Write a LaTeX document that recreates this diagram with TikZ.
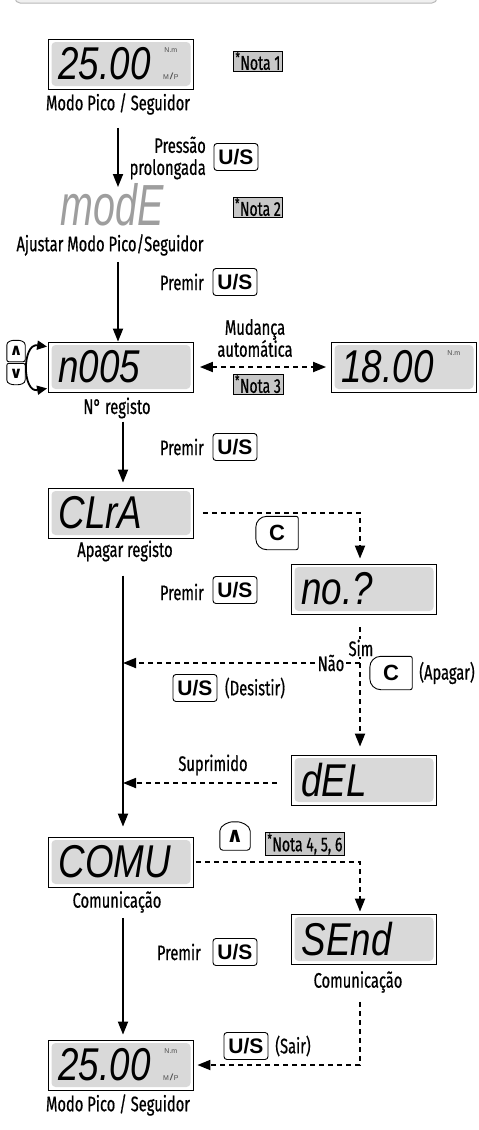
\documentclass[tikz,border=0pt]{standalone}
\usepackage{fontspec}
\setmainfont[FakeStretch=0.7, FakeBold=0.6]{Fira Sans}
\newfontfamily\lcdfont[FakeStretch=0.8]{Liberation Sans}
\newfontfamily\lcdnarrow[FakeStretch=0.68]{Liberation Sans}
\newfontfamily\keyfont{Liberation Sans}
\newfontfamily\symfont{DejaVu Sans}
\usetikzlibrary{arrows.meta}

\definecolor{lcdgray}{gray}{0.85}
\definecolor{notegray}{gray}{0.78}
\definecolor{modegray}{gray}{0.62}

\tikzset{
  lcd/.style={draw, line width=0.8pt, minimum width=145pt, minimum height=50pt,
    text width=125pt, align=left, inner xsep=10pt, inner ysep=0pt,
    font=\lcdfont\itshape\fontsize{46}{46}\selectfont,
    path picture={\fill[lcdgray, rounded corners=4pt]
      ([shift={(3pt,-3pt)}]path picture bounding box.north west) rectangle
      ([shift={(-3pt,3pt)}]path picture bounding box.south east);}},
  unit/.style={inner sep=0pt, font=\keyfont\fontsize{7}{7}\selectfont, text=black!70},
  lbl/.style={inner sep=1pt, font=\fontsize{21}{22}\selectfont},
  note/.style={draw, line width=0.8pt, fill=notegray, inner xsep=2pt, inner ysep=1pt,
    font=\fontsize{20}{20}\selectfont},
  key/.style={draw, line width=0.9pt, rounded corners=3pt, minimum width=44pt,
    minimum height=27pt, inner sep=0pt, font=\keyfont\bfseries\fontsize{21}{21}\selectfont},
  ckey/.style={minimum width=42pt, minimum height=33pt, inner sep=0pt,
    font=\keyfont\bfseries\fontsize{22}{22}\selectfont},
  arrkey/.style={minimum width=18pt, minimum height=21pt, inner sep=0pt,
    font=\symfont\bfseries\fontsize{16}{16}\selectfont},
  keyline/.style={line width=0.9pt, rounded corners=2pt},
  flow/.style={line width=1.8pt, -{Triangle[length=13pt,width=10pt]}},
  dflow/.style={flow, dash pattern=on 5pt off 4pt},
}

\begin{document}
\begin{tikzpicture}[x=1pt, y=-1pt]
\useasboundingbox (0,0) rectangle (479,1130);
\draw [gray!55, fill=gray!12, line width=1pt, rounded corners=5pt] (15,-20) rectangle (437,3);
\coordinate (colA) at (118,0);
\coordinate (colB) at (123,0);
\coordinate (colC) at (360,0);

% modo pico / seguidor
\node [lcd] (peak1) at (121,64) {25.00};
\node [unit] (peak1n) at ([shift={(-23pt,-11pt)}]peak1.north east) {N.m};
\node [unit] (peak1m) at ([shift={(-23pt,13pt)}]peak1.south east) {M\,{\bfseries\itshape\fontsize{9}{9}\selectfont /}\,P};
\node [lbl] (peak1l) at (118,104) {Modo Pico / Seguidor};
\node [note] (nota1) at (258,61) {\textsuperscript{*}Nota 1};

% ajustar modo
\node [inner sep=0pt, text=modegray, font=\lcdnarrow\itshape\fontsize{58}{58}\selectfont] (mode) at (112,205) {modE};
\draw [flow, shorten <=12pt, shorten >=18pt] (peak1l.south -| colA) -- (mode.center -| colA);
\node [lbl, align=right, anchor=east] (press) at (207,158) {Pressão\\prolongada};
\node [key] (us1) at (236,157) {U/S};
\node [lbl] (model) at (110,245) {Ajustar Modo Pico/Seguidor};
\node [note] (nota2) at (258,207) {\textsuperscript{*}Nota 2};

% n. registo
\node [lcd] (rec) at (121,367) {n005};
\draw [flow, shorten <=5pt] (model.south -| colA) -- (rec.north -| colA);
\node [lbl, anchor=east] (prem1) at (205,282) {Premir};
\node [key] (us2) at (235,282) {U/S};
\node [lbl] (recl) at (117,408) {N° registo};
\node [arrkey] (upk) at (16,351) {∧};
\node [arrkey] (dnk) at (16,374) {∨};
\draw [keyline] (upk.south west) -- ([yshift=4pt]upk.west) .. controls ([yshift=-1pt]upk.north west) and ([xshift=-4pt]upk.north) .. (upk.north) .. controls ([xshift=4pt]upk.north) and ([yshift=-1pt]upk.north east) .. ([yshift=4pt]upk.east) -- (upk.south east) -- cycle;
\draw [keyline] (dnk.north west) -- ([yshift=-4pt]dnk.west) .. controls ([yshift=1pt]dnk.south west) and ([xshift=-4pt]dnk.south) .. (dnk.south) .. controls ([xshift=4pt]dnk.south) and ([yshift=1pt]dnk.south east) .. ([yshift=-4pt]dnk.east) -- (dnk.north east) -- cycle;
\draw [line width=1.8pt, {Triangle[length=10pt,width=9pt]}-{Triangle[length=10pt,width=9pt]}]
  ([shift={(-1pt,-5pt)}]rec.north west) .. controls (22,343) and (22,393) .. ([shift={(-1pt,4pt)}]rec.south west);

\node [lbl, align=center] (auto) at (255,338) {Mudança\\automática};
\node [lcd] (val) at (404,367) {18.00};
\node [unit] (valn) at ([shift={(-23pt,-11pt)}]val.north east) {N.m};
\draw [dflow, {Triangle[length=13pt,width=10pt]}-{Triangle[length=13pt,width=10pt]}, shorten <=6pt, shorten >=5pt] (rec) -- (val);
\node [note] (nota3) at (258,384) {\textsuperscript{*}Nota 3};

% apagar registo
\node [lbl, anchor=east] (prem2) at (205,447) {Premir};
\node [key] (us3) at (235,447) {U/S};
\node [lcd] (clr) at (121,513) {CLrA};
\draw [flow, shorten <=2pt, shorten >=5pt] (recl.south -| colB) -- (clr.north -| colB);
\node [lbl] (clrl) at (125,551) {Apagar registo};
\node [lcd] (nop) at (364,589) {no.?};
\draw [dflow, shorten <=9pt, shorten >=5pt] (clr.east) -| (nop.north -| colC);
\node [ckey] (c1) at (277,533) {C};
\draw [line width=0.9pt] (c1.north) [rounded corners=2pt] -- (c1.north east) -- (c1.south east) [rounded corners=11pt] -- (c1.south west) -- (c1.north west) -- (c1.north);
\node [lbl, anchor=east] (prem3) at (205,592) {Premir};
\node [key] (us4) at (235,590) {U/S};

\node [lcd] (del) at (364,780) {dEL};
\node [lcd] (comm) at (121,862) {COMU};
\draw [flow, shorten <=13pt, shorten >=10pt] (clrl.south -| colB) -- (comm.north -| colB);
\coordinate (yes) at (360,663);
\draw [dflow, shorten <=13pt, shorten >=8pt] (nop.south -| colC) -- (del.north -| colC);
\draw [dflow] (yes) -- (yes -| colB);
\node [lbl, fill=white, inner sep=0.5pt] (sim) at (361,648) {Sim};
\node [lbl, fill=white, inner sep=0.5pt] (nao) at (331,663) {Não};
\node [key] (us5) at (195,688) {U/S};
\node [lbl] (quit) at (255,688) {(Desistir)};
\node [ckey] (c2) at (391,673) {C};
\draw [line width=0.9pt] (c2.north) [rounded corners=2pt] -- (c2.north east) -- (c2.south east) [rounded corners=11pt] -- (c2.south west) -- (c2.north west) -- (c2.north);
\node [lbl] (erase) at (447,673) {(Apagar)};
\node [lbl] (gone) at (213,765) {Suprimido};
\draw [dflow, shorten <=14pt] ([yshift=-3pt]del.west) -- ([yshift=-3pt]del.west -| colB);

% comunicacao
\node [lbl] (comml) at (117,902) {Comunicação};
\node [arrkey, minimum width=30pt, minimum height=28pt, font=\symfont\bfseries\fontsize{21}{21}\selectfont] (upk2) at (235,836) {∧};
\draw [keyline, rounded corners=3pt] (upk2.south west) -- ([yshift=2pt]upk2.west) .. controls ([yshift=-3pt]upk2.north west) and ([xshift=-5pt]upk2.north) .. (upk2.north) .. controls ([xshift=5pt]upk2.north) and ([yshift=-3pt]upk2.north east) .. ([yshift=2pt]upk2.east) -- (upk2.south east) -- cycle;
\node [note] (nota4) at (305,844) {\textsuperscript{*}Nota 4, 5, 6};
\node [lcd] (send) at (364,939) {SEnd};
\draw [dflow, shorten <=2pt, shorten >=2pt] (comm.east) -| (send.north -| colC);
\node [lbl] (sendl) at (358,982) {Comunicação};
\node [lbl, anchor=east] (prem4) at (202,952) {Premir};
\node [key] (us6) at (235,952) {U/S};

% volta ao modo pico / seguidor
\node [lcd] (peak2) at (121,1065) {25.00};
\node [unit] (peak2n) at ([shift={(-23pt,-11pt)}]peak2.north east) {N.m};
\node [unit] (peak2m) at ([shift={(-23pt,13pt)}]peak2.south east) {M\,{\bfseries\itshape\fontsize{9}{9}\selectfont /}\,P};
\node [lbl] (peak2l) at (118,1105) {Modo Pico / Seguidor};
\draw [flow, shorten <=4pt, shorten >=5pt] (comml.south -| colB) -- (peak2.north -| colB);
\draw [dflow, shorten <=8pt, shorten >=3.5pt] (sendl.south -| colC) |- (peak2.east);
\node [key] (us7) at (246,1046) {U/S};
\node [lbl] (quit2) at (293,1046) {(Sair)};
\end{tikzpicture}
\end{document}
